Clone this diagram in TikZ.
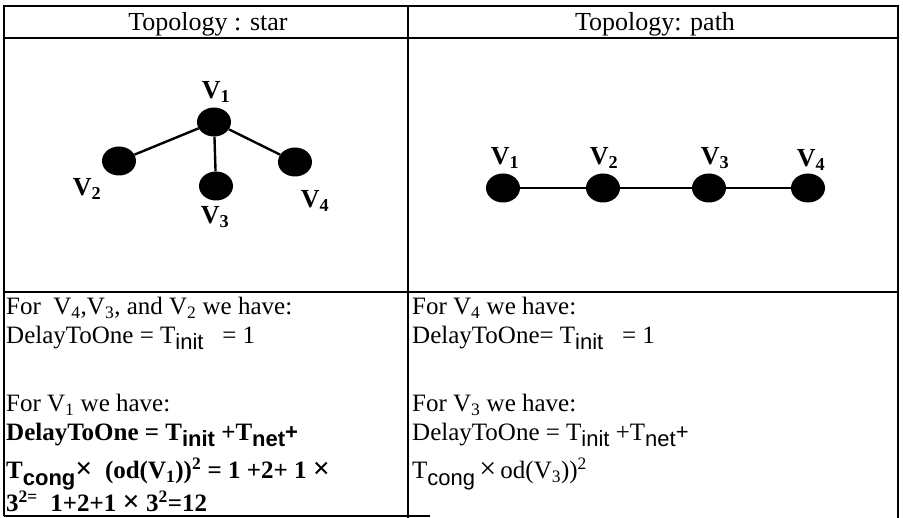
\documentclass[tikz,border=0pt]{standalone}
\usepackage{fontspec}
\setmainfont{Liberation Serif}
\newfontfamily\subsans{Liberation Sans}
\usetikzlibrary{shapes.geometric}
\newcommand{\Tsb}[1]{T\raisebox{-6pt}{\subsans\fontsize{22}{22}\selectfont #1}}
\newcommand{\Vs}[1]{V\textsubscript{#1}}
\newcommand{\tms}{{\fontsize{30}{30}\selectfont ×}}
\begin{document}
\begin{tikzpicture}[x=1pt,y=-1pt,
  vert/.style={ellipse, fill=black, minimum width=34pt, minimum height=29pt, inner sep=0pt},
  lbl/.style={font=\fontsize{26}{26}\selectfont\bfseries, inner sep=0pt},
  txt/.style={anchor=base west, inner sep=0pt, font=\fontsize{25}{28}\selectfont},
  btxt/.style={txt, font=\fontsize{25}{28}\selectfont\bfseries},
  hdr/.style={anchor=base, inner sep=0pt, font=\fontsize{26}{28}\selectfont},
  gridline/.style={line width=1.8pt},
  thickline/.style={line width=2.4pt},
  staredge/.style={line width=2.4pt},
  pathedge/.style={line width=1.5pt}]
\useasboundingbox (0,0) rectangle (903,518);
\fill[white] (0,0) rectangle (903,518);
% table
\draw[gridline] (4,516) -- (4,6) -- (898,6) -- (898,518);
\draw[gridline] (408,6) -- (408,518);
\draw[gridline] (4,516) -- (430,516);
\draw[thickline] (4,38) -- (898,38);
\draw[thickline] (4,292) -- (898,292);
% headers
\node[hdr] (h1) at (208,31) {Topology : star};
\node[hdr] (h2) at (655,31) {Topology: path};
% star graph
\node[vert] (s1) at (214,122) {};
\node[vert] (s2) at (119,161) {};
\node[vert] (s3) at (216,186) {};
\node[vert] (s4) at (295,162) {};
\draw[staredge] (s1) -- (s2);
\draw[staredge] (s1) -- (s4);
\draw[staredge] (s1) -- (s3);
\node[lbl] (ls1) at (216,92) {\Vs{1}};
\node[lbl] (ls2) at (87,189) {\Vs{2}};
\node[lbl] (ls3) at (215,217) {\Vs{3}};
\node[lbl] (ls4) at (315,201) {\Vs{4}};
% path graph
\node[vert] (p1) at (503,188) {};
\node[vert] (p2) at (603,188) {};
\node[vert] (p3) at (709,188) {};
\node[vert] (p4) at (808,188) {};
\draw[pathedge] (p1) -- (p2) -- (p3) -- (p4);
\node[lbl] (lp1) at (505,158) {\Vs{1}};
\node[lbl] (lp2) at (604,158) {\Vs{2}};
\node[lbl] (lp3) at (715,158) {\Vs{3}};
\node[lbl] (lp4) at (811,160) {\Vs{4}};
% left text
\node[txt] (a1) at (6,315) {For\ \ \Vs{4},\Vs{3}, and \Vs{2} we have:};
\node[txt] (a2) at (6,344) {DelayToOne = \Tsb{init}\ \ \ = 1};
\node[txt] (a3) at (6,412) {For \Vs{1} we have:};
\node[btxt] (a4) at (6,441) {DelayToOne = \Tsb{init} +\Tsb{net}\raisebox{1pt}{\subsans\fontsize{22}{22}\selectfont +}};
\node[btxt] (a5) at (6,479) {\Tsb{cong}\tms\ \ (od(\Vs{1}))\textsuperscript{2} = 1 +2+ 1 \tms};
\node[btxt] (a6) at (6,512) {3\textsuperscript{2=}\ \ 1+2+1 \tms\ 3\textsuperscript{2}=12};
% right text
\node[txt] (b1) at (412,315) {For \Vs{4} we have:};
\node[txt] (b2) at (412,344) {DelayToOne= \Tsb{init}\ \ \ = 1};
\node[txt] (b3) at (412,412) {For \Vs{3} we have:};
\node[txt] (b4) at (412,441) {DelayToOne = \Tsb{init} +\Tsb{net}\raisebox{1pt}{\subsans\fontsize{22}{22}\selectfont +}};
\node[txt] (b5) at (412,479) {\Tsb{cong}\,\tms\,od(\Vs{3}))\textsuperscript{2}};
\end{tikzpicture}
\end{document}
